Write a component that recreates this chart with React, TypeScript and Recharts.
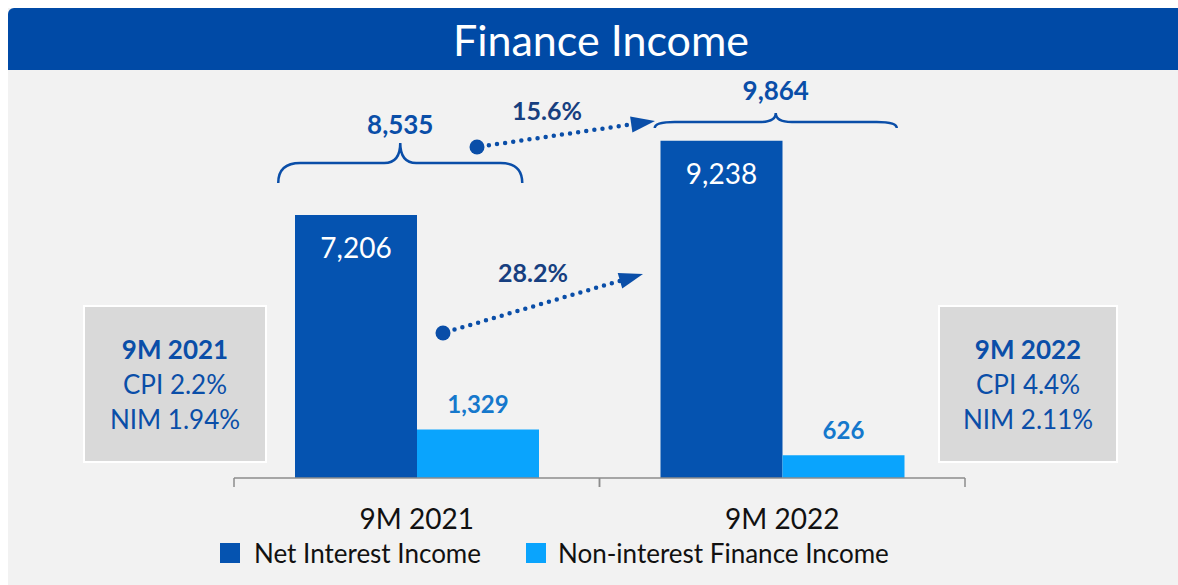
import React from "react";
import { Bar, BarChart, Customized, LabelList, Legend, XAxis, YAxis } from "recharts";

const categories = ["9M 2021", "9M 2022"];
const netInterestIncome = [7206, 9238];
const nonInterestFinanceIncome = [1329, 626];
const cpiRates = ["2.2%", "4.4%"];
const nimRates = ["1.94%", "2.11%"];

const seriesNames = ["Net Interest Income", "Non-interest Finance Income"];
const seriesColors = ["#0553b0", "#0aa4fd"];

const FONT = "Lato, 'Open Sans', sans-serif";
const BLUE = "#0a4ea8";
const NAVY = "#173f80";

// chart geometry (chart coords, page - 8)
const W = 1170;
const H = 577;
const PLOT_LEFT = 226;
const PLOT_RIGHT = 957;
const PLOT_TOP = 32;
const PLOT_BOTTOM = 470;
const Y_MAX = 12000;
const BAND = (PLOT_RIGHT - PLOT_LEFT) / categories.length;
const GAP = 61;

const yPx = (v: number) => PLOT_BOTTOM - ((PLOT_BOTTOM - PLOT_TOP) * v) / Y_MAX;
const fmt = (v: number) => v.toLocaleString("en-US");

const data = categories.map((c, i) => ({
  name: c,
  nii: netInterestIncome[i],
  nfi: nonInterestFinanceIncome[i],
}));

const totals = categories.map((_, i) => netInterestIncome[i] + nonInterestFinanceIncome[i]);
const growth = (a: number, b: number) => (((b - a) / a) * 100).toFixed(1) + "%";

// brace look per group
const braceStyle = [
  { dx: -16.5, width: 244, lift: -3.5, drop: 20, peak: 20, r: 22, labelGap: 9 },
  { dx: -6.5, width: 242, lift: 4, drop: 6, peak: 9, r: 20, labelGap: 13 },
];

// growth arrows: dot -> tip, label position
const arrows = [
  { from: [469, 139], to: [647, 113], label: [539, 112], text: growth(totals[0], totals[1]) },
  {
    from: [435, 325],
    to: [635, 266],
    label: [525, 274],
    text: growth(netInterestIncome[0], netInterestIncome[1]),
  },
];

function Brace({ i }: { i: number }) {
  const s = braceStyle[i];
  const center = PLOT_LEFT + BAND * (i + 0.5) + s.dx;
  const xL = center - s.width / 2;
  const xR = center + s.width / 2;
  const yH = yPx(totals[i]) + s.lift;
  const r = s.r;
  const r2 = 16;
  const d = `M ${xL} ${yH + s.drop} Q ${xL} ${yH} ${xL + r} ${yH} L ${center - r2} ${yH} Q ${center} ${yH} ${center} ${
    yH - s.peak
  } Q ${center} ${yH} ${center + r2} ${yH} L ${xR - r} ${yH} Q ${xR} ${yH} ${xR} ${yH + s.drop}`;
  return (
    <g>
      <path d={d} fill="none" stroke={BLUE} strokeWidth={2.5} />
      <text
        x={center}
        y={yH - s.peak - s.labelGap}
        textAnchor="middle"
        fontFamily={FONT}
        fontWeight={700}
        fontSize={26}
        fill={BLUE}
      >
        {fmt(totals[i])}
      </text>
    </g>
  );
}

function Arrow({ a }: { a: (typeof arrows)[number] }) {
  const [x1, y1] = a.from;
  const [x2, y2] = a.to;
  const len = Math.hypot(x2 - x1, y2 - y1);
  const ux = (x2 - x1) / len;
  const uy = (y2 - y1) / len;
  const headL = 24;
  const headW = 8;
  const bx = x2 - ux * headL;
  const by = y2 - uy * headL;
  const head = `${x2},${y2} ${bx - uy * headW},${by + ux * headW} ${bx + uy * headW},${by - ux * headW}`;
  return (
    <g>
      <line
        x1={x1 + ux * 12}
        y1={y1 + uy * 12}
        x2={bx}
        y2={by}
        stroke={BLUE}
        strokeWidth={4.5}
        strokeDasharray="0 8.2"
        strokeLinecap="round"
      />
      <circle cx={x1} cy={y1} r={7.5} fill={BLUE} />
      <polygon points={head} fill={BLUE} />
      <text
        x={a.label[0]}
        y={a.label[1]}
        textAnchor="middle"
        fontFamily={FONT}
        fontWeight={700}
        fontSize={25}
        fill={NAVY}
      >
        {a.text}
      </text>
    </g>
  );
}

function Annotations() {
  return (
    <g>
      {categories.map((_, i) => (
        <Brace key={i} i={i} />
      ))}
      {arrows.map((a, i) => (
        <Arrow key={i} a={a} />
      ))}
    </g>
  );
}

function CategoryTick(props: any) {
  const { x, y, payload } = props;
  return (
    <g>
      <line x1={x - BAND / 2} y1={y} x2={x - BAND / 2} y2={y + 9} stroke="#8c8c8c" strokeWidth={1.5} />
      <line x1={x + BAND / 2} y1={y} x2={x + BAND / 2} y2={y + 9} stroke="#8c8c8c" strokeWidth={1.5} />
      <text x={x} y={y + 51} textAnchor="middle" fontFamily={FONT} fontSize={28} fill="#111">
        {payload.value}
      </text>
    </g>
  );
}

function NiiLabel(props: any) {
  const { x, y, width, value } = props;
  return (
    <text x={x + width / 2} y={y + 43} textAnchor="middle" fontFamily={FONT} fontSize={28} fill="#fff">
      {fmt(value)}
    </text>
  );
}

function NfiLabel(props: any) {
  const { x, y, width, value } = props;
  return (
    <text
      x={x + width / 2}
      y={y - 16}
      textAnchor="middle"
      fontFamily={FONT}
      fontWeight={700}
      fontSize={24}
      fill="#1578cc"
    >
      {fmt(value)}
    </text>
  );
}

function LegendContent() {
  const left = [212, 518];
  return (
    <div style={{ position: "relative", height: 34, width: W }}>
      {seriesNames.map((n, i) => (
        <div
          key={n}
          style={{ position: "absolute", left: left[i], top: 0, display: "flex", alignItems: "center", height: 34 }}
        >
          <span style={{ width: 20, height: 20, background: seriesColors[i], display: "inline-block" }} />
          <span style={{ marginLeft: i === 0 ? 14 : 12, fontFamily: FONT, fontSize: 26, color: "#111" }}>{n}</span>
        </div>
      ))}
    </div>
  );
}

function InfoBox({ i, left, width }: { i: number; left: number; width: number }) {
  return (
    <div
      style={{
        position: "absolute",
        left,
        top: 297,
        width,
        height: 158,
        boxSizing: "border-box",
        background: "#d9d9d9",
        border: "2px solid #fff",
        display: "flex",
        flexDirection: "column",
        alignItems: "center",
        justifyContent: "center",
        fontFamily: FONT,
        fontSize: 26,
        lineHeight: "35px",
        color: BLUE,
      }}
    >
      <div style={{ fontWeight: 700 }}>{categories[i]}</div>
      <div>CPI {cpiRates[i]}</div>
      <div>NIM {nimRates[i]}</div>
    </div>
  );
}

export default function App() {
  return (
    <div
      style={{
        position: "absolute",
        left: 0,
        top: 0,
        width: 1178,
        height: 585,
        overflow: "hidden",
        background: "#fff",
      }}
    >
      <div style={{ position: "absolute", left: 8, top: 8, width: W, height: H, background: "#f2f2f2" }}>
        <div
          style={{
            position: "absolute",
            left: 0,
            top: 0,
            width: W,
            height: 62,
            background: "#004aa6",
            borderRadius: "6px 0 0 0",
            color: "#fff",
            fontFamily: FONT,
            fontSize: 43,
            display: "flex",
            alignItems: "center",
            justifyContent: "center",
            paddingLeft: 16,
            boxSizing: "border-box",
          }}
        >
          Finance Income
        </div>
        <InfoBox i={0} left={75} width={184} />
        <InfoBox i={1} left={930} width={180} />
        <div style={{ position: "absolute", left: 0, top: 0 }}>
          <BarChart
            width={W}
            height={H}
            data={data}
            margin={{ top: PLOT_TOP, left: PLOT_LEFT, right: W - PLOT_RIGHT, bottom: 0 }}
            barCategoryGap={GAP}
            barGap={0}
          >
            <XAxis
              dataKey="name"
              height={73}
              tickLine={false}
              tickSize={0}
              tickMargin={0}
              axisLine={{ stroke: "#8c8c8c", strokeWidth: 1.5 }}
              tick={<CategoryTick />}
              interval={0}
            />
            <YAxis hide domain={[0, Y_MAX]} />
            <Legend
              verticalAlign="bottom"
              content={<LegendContent />}
              wrapperStyle={{ left: 0, bottom: 15, width: W, height: 34 }}
            />
            <Bar dataKey="nii" name={seriesNames[0]} fill={seriesColors[0]} isAnimationActive={false}>
              <LabelList dataKey="nii" content={<NiiLabel />} />
            </Bar>
            <Bar dataKey="nfi" name={seriesNames[1]} fill={seriesColors[1]} isAnimationActive={false}>
              <LabelList dataKey="nfi" content={<NfiLabel />} />
            </Bar>
            <Customized component={<Annotations />} />
          </BarChart>
        </div>
      </div>
    </div>
  );
}
